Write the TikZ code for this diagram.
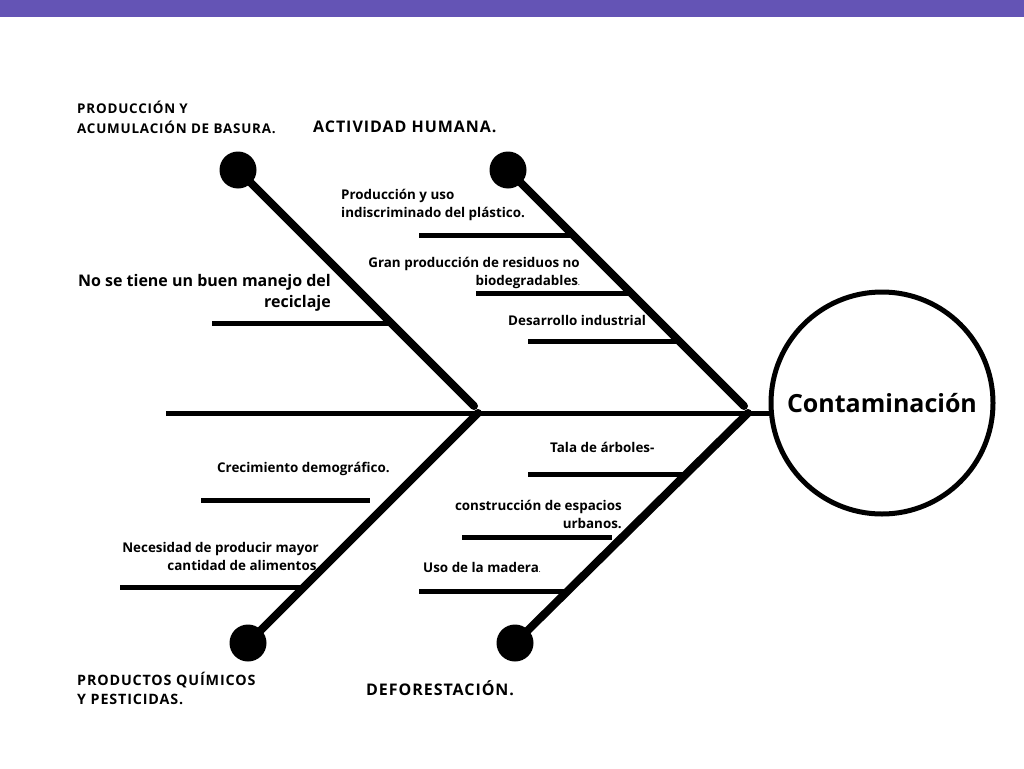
\documentclass[tikz,border=0pt]{standalone}
\usepackage{fontspec}
\setmainfont{Open Sans}
\newfontfamily\wideopen[LetterSpace=6]{Open Sans}
\usetikzlibrary{positioning, calc}
\definecolor{topbar}{RGB}{100,84,181}

\begin{document}
\begin{tikzpicture}[x=1pt, y=-1pt,
    bone/.style={line width=8pt, line cap=round},
    rib/.style={line width=5pt},
    head/.style={circle, fill=black, inner sep=0pt, minimum size=37pt},
    cause/.style={font=\fontsize{13.4}{18}\selectfont\bfseries, inner sep=0pt},
    group/.style={font=\wideopen\fontsize{13.4}{20}\selectfont\bfseries, inner sep=0pt, align=left},
    biggroup/.style={font=\wideopen\fontsize{16}{20}\selectfont\bfseries, inner sep=0pt}]
  \useasboundingbox (0,0) rectangle (1024,768);
  \fill[topbar] (0,0) rectangle (1024,17);

  \node (effect) [circle, draw, line width=5pt, minimum size=222pt, inner sep=0pt, font=\fontsize{25}{30}\selectfont\bfseries] at (882,403) {Contaminación};
  \coordinate (tail) at (166,413);
  \draw[line width=5pt] (tail) -- (effect.west |- tail);

  \node (dA) [head] at (238,170) {};
  \node (dB) [head] at (508,170) {};
  \node (dC) [head] at (248,643) {};
  \node (dD) [head] at (515,643) {};
  \coordinate (jA) at (474,406);
  \coordinate (jB) at (744,406);
  \coordinate (jC) at (478,413);
  \coordinate (jD) at (748,413);
  \draw[bone] (dA.center) -- (jA);
  \draw[bone] (dB.center) -- (jB);
  \draw[bone] (dC.center) -- (jC);
  \draw[bone] (dD.center) -- (jD);

  % ribs
  \coordinate (r1s) at (419,235); \coordinate (r1e) at (573,235);
  \coordinate (r2s) at (476,293); \coordinate (r2e) at (628,293);
  \coordinate (r3s) at (528,341); \coordinate (r3e) at (679,341);
  \coordinate (r4s) at (212,323); \coordinate (r4e) at (388,323);
  \coordinate (r5s) at (201,500); \coordinate (r5e) at (370,500);
  \coordinate (r6s) at (120,587); \coordinate (r6e) at (302,587);
  \coordinate (r7s) at (528,474); \coordinate (r7e) at (686,474);
  \coordinate (r8s) at (462,537); \coordinate (r8e) at (612,537);
  \coordinate (r9s) at (419,591); \coordinate (r9e) at (566,591);
  \foreach \r in {1,...,9}
    \draw[rib] (r\r s) -- (r\r e);

  \node (hA) [group, anchor=base west] at (77,133) {PRODUCCIÓN Y\\ACUMULACIÓN DE BASURA.};
  \node (hB) [biggroup, anchor=base west] at (313,132) {ACTIVIDAD HUMANA.};
  \node (hC) [group, anchor=base west, font=\wideopen\fontsize{14.3}{19}\selectfont\bfseries] at (77,704) {PRODUCTOS QUÍMICOS\\Y PESTICIDAS.};
  \node (hD) [biggroup, anchor=base west] at (366,695) {DEFORESTACIÓN.};

  \node (c1) [cause, align=left, anchor=base west] at (341,217) {Producción y uso\\indiscriminado del plástico.};
  \node (c2) [cause, align=right, anchor=base east] at (580,285) {Gran producción de residuos no\\biodegradables{\fontsize{6}{6}\selectfont.}};
  \node (c3) [cause, anchor=base west] at (508,325) {Desarrollo industrial};
  \node (c4) [cause, align=right, anchor=base east, font=\fontsize{16}{21}\selectfont\bfseries] at (331,307) {No se tiene un buen manejo del\\reciclaje};
  \node (c5) [cause, anchor=base west] at (217,472) {Crecimiento demográfico.};
  \node (c6) [cause, align=right, anchor=base east] at (319,570) {Necesidad de producir mayor\\cantidad de alimentos{\fontsize{8}{8}\selectfont.}};
  \node (c7) [cause, anchor=base west] at (550,452) {Tala de árboles-};
  \node (c8) [cause, align=right, anchor=base east] at (622,528) {construcción de espacios\\urbanos.};
  \node (c9) [cause, anchor=base west] at (423,572) {Uso de la madera{\fontsize{6}{6}\selectfont.}};
\end{tikzpicture}
\end{document}
